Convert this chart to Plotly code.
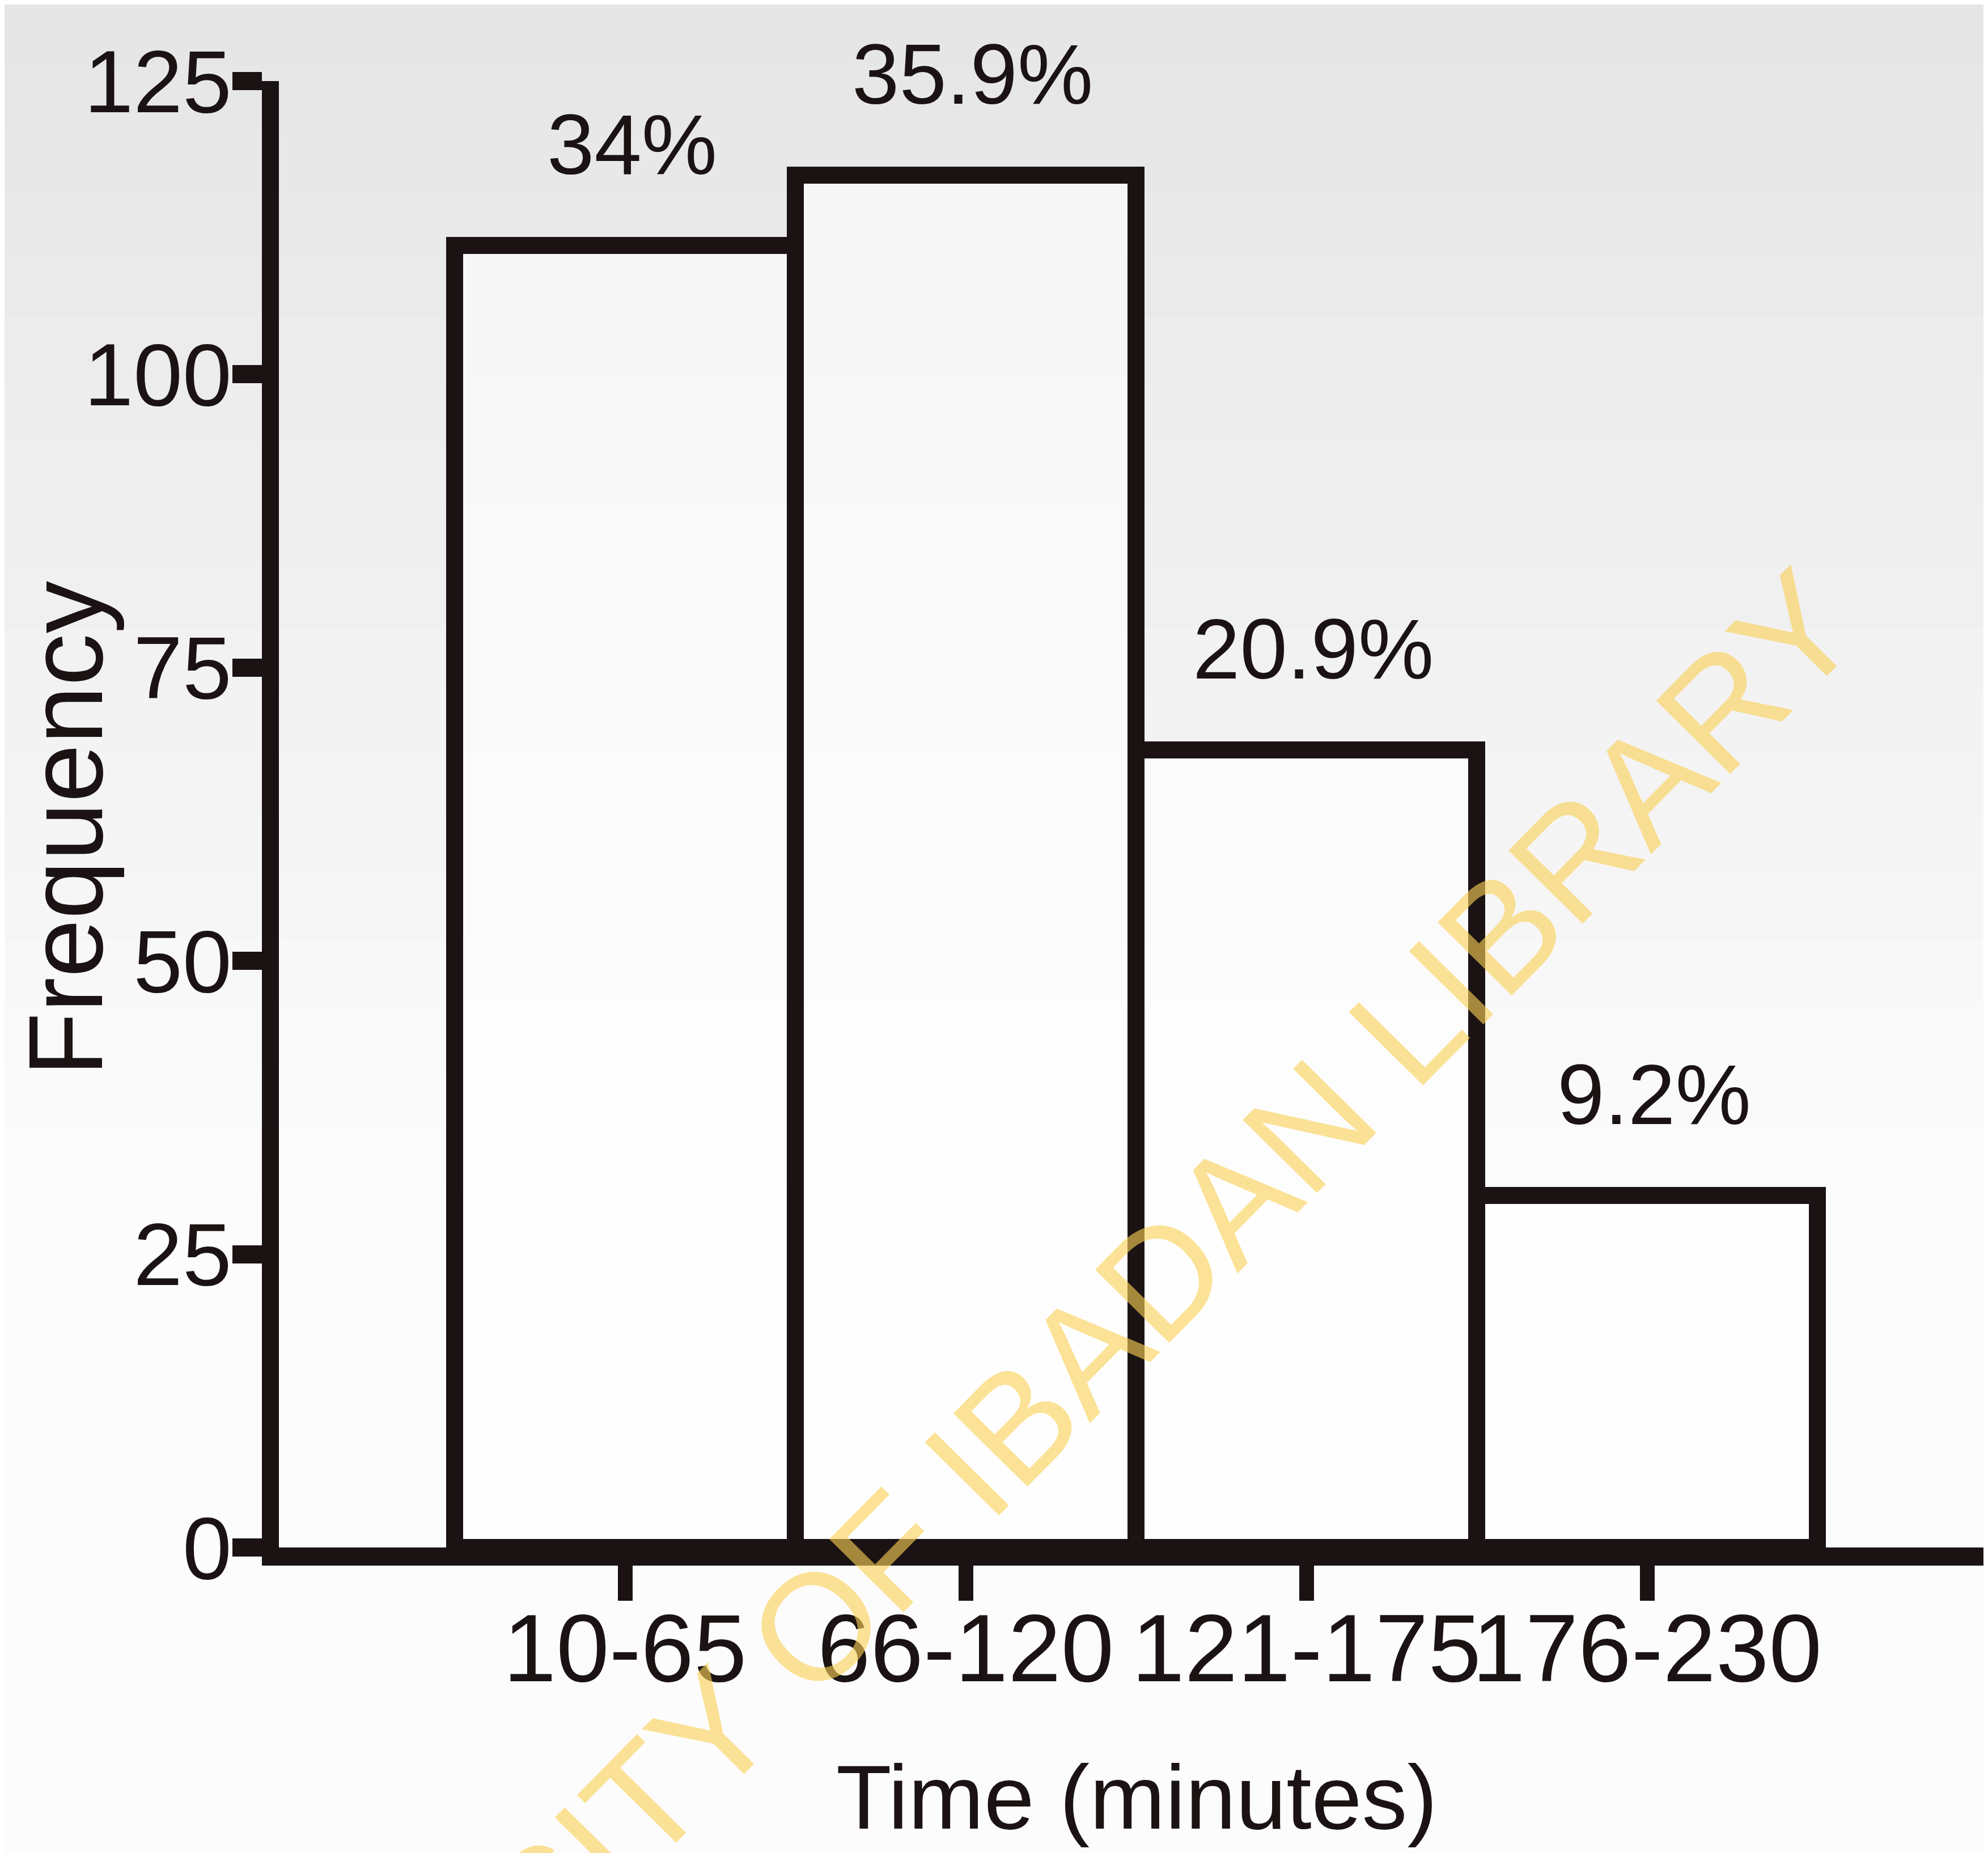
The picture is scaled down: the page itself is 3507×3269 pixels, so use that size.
import plotly.graph_objects as go

# ---------------- data ----------------
categories = ["10-65", "66-120", "121-175", "176-230"]
counts = [111, 117, 68, 30]
percent_labels = ["34%", "35.9%", "20.9%", "9.2%"]
y_ticks = [0, 25, 50, 75, 100, 125]
x_title = "Time (minutes)"
y_title = "Frequency"
watermark = "UNIVERSITY OF IBADAN LIBRARY"

# ---------------- layout geometry (pixels) ----------------
W, H = 3507, 3269
L, R, T, B = 484, 0, 135, 547
INK = "#1b1313"
FONT = "Liberation Sans, Arial, Helvetica, sans-serif"


def px(x):
    return (x - L) / (W - L - R)


def py(y):
    return 1 - (y - T) / (H - T - B)


fig = go.Figure()
fig.add_trace(go.Bar(
    x=categories,
    y=counts,
    width=1.0,
    marker=dict(color="rgba(255,255,255,0.6)", line=dict(color=INK, width=30)),
    hoverinfo="skip",
))

# paper-like background gradient (scan look)
shapes = []
for y0 in range(0, 2200, 110):
    y1 = y0 + 110
    t = min(1.0, (y0 + 55) / 2100)
    g = int(round(229 + (252 - 229) * t))
    shapes.append(dict(type="rect", xref="paper", yref="paper", layer="below",
                       x0=px(0), x1=px(W), y0=py(y1), y1=py(y0),
                       line=dict(width=0), fillcolor=f"rgb({g},{g},{g})"))

annotations = []
for cat, v, lab in zip(categories, counts, percent_labels):
    annotations.append(dict(x=cat, y=v, xref="x", yref="y", text=lab, showarrow=False,
                            xanchor="center", yanchor="bottom", yshift=92, xshift=12,
                            font=dict(family=FONT, size=150, color=INK)))

annotations.append(dict(x=px(1997), y=py(3162), xref="paper", yref="paper", text=x_title,
                        showarrow=False, xanchor="center", yanchor="middle",
                        font=dict(family=FONT, size=160, color=INK)))
annotations.append(dict(x=px(108), y=py(1454), xref="paper", yref="paper", text=y_title,
                        showarrow=False, xanchor="center", yanchor="middle", textangle=-90,
                        font=dict(family=FONT, size=185, color=INK)))
annotations.append(dict(x=px(1702), y=py(2586), xref="paper", yref="paper", text=watermark,
                        showarrow=False, xanchor="center", yanchor="middle", textangle=-45.4,
                        font=dict(family=FONT, size=267, color="rgba(250,208,85,0.62)")))

fig.update_layout(
    width=W, height=H,
    margin=dict(l=L, r=R, t=T, b=B, pad=0, autoexpand=False),
    paper_bgcolor="#fcfcfc",
    plot_bgcolor="rgba(0,0,0,0)",
    showlegend=False,
    bargap=0,
    shapes=shapes,
    annotations=annotations,
    xaxis=dict(
        type="category",
        range=[-1.016, 4.014],
        automargin=False,
        tickangle=0,
        showgrid=False, zeroline=False,
        showline=True, linewidth=32, linecolor=INK,
        ticks="outside", ticklen=62, tickwidth=26, tickcolor=INK,
        ticklabelstandoff=-60,
        tickfont=dict(family=FONT, size=168, color=INK),
    ),
    yaxis=dict(
        range=[0, 125],
        tickvals=y_ticks,
        automargin=False,
        showgrid=False, zeroline=False,
        showline=True, linewidth=30, linecolor=INK,
        ticks="outside", ticklen=52, tickwidth=32, tickcolor=INK,
        ticklabelstandoff=-30,
        tickfont=dict(family=FONT, size=156, color=INK),
    ),
)

fig.write_html("out.html")
